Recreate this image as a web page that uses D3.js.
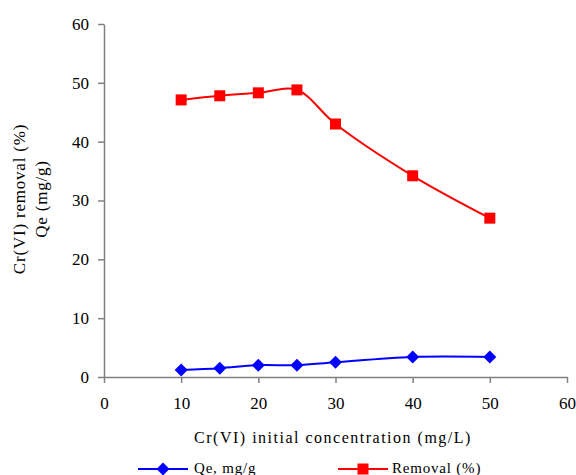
<!DOCTYPE html>
<html><head><meta charset="utf-8">
<script src="https://cdn.jsdelivr.net/npm/d3@7"></script>
<style>body{margin:0;background:#fff}svg{display:block}svg text{font-family:'Liberation Serif','Times New Roman',Times,serif !important;fill:#000}</style>
</head><body><svg id="c" width="576" height="475" font-family="Liberation Serif"></svg>
<script>
const concentration = [10, 15, 20, 25, 30, 40, 50];
const qe = [1.2, 1.5, 2.0, 2.0, 2.5, 3.4, 3.4];
const removal = [47.1, 47.8, 48.3, 48.8, 43.0, 34.2, 27.0];
const xTicks = [0, 10, 20, 30, 40, 50, 60];
const yTicks = [0, 10, 20, 30, 40, 50, 60];
const FONT = "'Liberation Serif','Times New Roman',serif";

const svg = d3.select("#c");
const x = d3.scaleLinear().domain([0, 60]).range([104, 567]);
const y = d3.scaleLinear().domain([0, 60]).range([377, 24]);

const xAxis = svg.append("g").attr("transform", "translate(0,377)")
  .call(d3.axisBottom(x).tickValues(xTicks).tickSize(6).tickSizeOuter(0).tickPadding(14));
const yAxis = svg.append("g").attr("transform", "translate(104,0)")
  .call(d3.axisLeft(y).tickValues(yTicks).tickSize(6).tickSizeOuter(0).tickPadding(9));
[xAxis, yAxis].forEach(a => {
  a.attr("font-family", FONT).attr("font-size", 17);
  a.selectAll("path,line").attr("stroke", "#808080").attr("stroke-width", 1.5);
  a.selectAll("text").attr("fill", "#000");
});

const line = d3.line().curve(d3.curveCatmullRom.alpha(0.5));
const red = concentration.map((c, i) => [x(c), y(removal[i])]);
const blue = concentration.map((c, i) => [x(c), y(qe[i])]);
svg.append("path").attr("d", line(blue)).attr("fill", "none").attr("stroke", "#0000ff").attr("stroke-width", 2);
svg.append("path").attr("d", line(red)).attr("fill", "none").attr("stroke", "#ff0000").attr("stroke-width", 2);

const diamond = (cx, cy, r) => `M${cx},${cy - r}L${cx + r},${cy}L${cx},${cy + r}L${cx - r},${cy}Z`;
svg.selectAll(".d").data(blue).enter().append("path")
  .attr("d", d => diamond(d[0], d[1], 6.5)).attr("fill", "#0000ff");
svg.selectAll(".s").data(red).enter().append("rect")
  .attr("x", d => d[0] - 5.5).attr("y", d => d[1] - 5.5).attr("width", 11).attr("height", 11).attr("fill", "#ff0000");

svg.append("text").attr("x", 333).attr("y", 443).attr("text-anchor", "middle")
  .attr("font-family", FONT).attr("font-size", 16).attr("letter-spacing", 1.5)
  .text("Cr(VI) initial concentration (mg/L)");
svg.append("text").attr("transform", "translate(25,199) rotate(-90)").attr("text-anchor", "middle")
  .attr("font-family", FONT).attr("font-size", 17).attr("letter-spacing", 0.8)
  .text("Cr(VI) removal (%)");
svg.append("text").attr("transform", "translate(47,199) rotate(-90)").attr("text-anchor", "middle")
  .attr("font-family", FONT).attr("font-size", 17).attr("letter-spacing", 0.8)
  .text("Qe  (mg/g)");

// legend
const ly = 469;
svg.append("line").attr("x1", 138).attr("x2", 188).attr("y1", ly).attr("y2", ly).attr("stroke", "#0000ff").attr("stroke-width", 2);
svg.append("path").attr("d", diamond(163, ly, 6.5)).attr("fill", "#0000ff");
svg.append("text").attr("x", 194).attr("y", ly + 4).attr("font-family", FONT).attr("font-size", 15).attr("letter-spacing", 0.8).text("Qe, mg/g");
svg.append("line").attr("x1", 338).attr("x2", 388).attr("y1", ly).attr("y2", ly).attr("stroke", "#ff0000").attr("stroke-width", 2);
svg.append("rect").attr("x", 357.5).attr("y", ly - 5.5).attr("width", 11).attr("height", 11).attr("fill", "#ff0000");
svg.append("text").attr("x", 392).attr("y", ly + 4).attr("font-family", FONT).attr("font-size", 15).attr("letter-spacing", 0.8).text("Removal (%)");
</script></body></html>
